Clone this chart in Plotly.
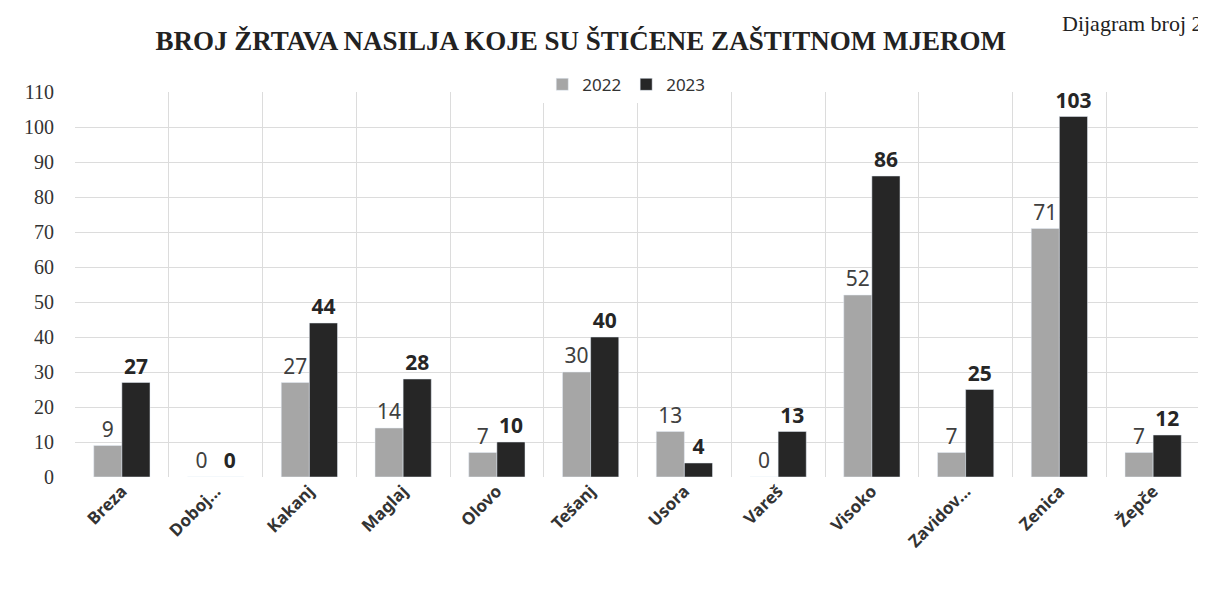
import plotly.graph_objects as go

categories = ["Breza", "Doboj...", "Kakanj", "Maglaj", "Olovo", "Tešanj", "Usora",
              "Vareš", "Visoko", "Zavidov...", "Zenica", "Žepče"]
v2022 = [9, 0, 27, 14, 7, 30, 13, 0, 52, 7, 71, 7]
v2023 = [27, 0, 44, 28, 10, 40, 4, 13, 86, 25, 103, 12]
y_ticks = list(range(0, 111, 10))

fig = go.Figure()
fig.add_trace(go.Bar(
    x=categories, y=v2022, name="2022", marker_color="#a6a6a6",
    text=[str(v) for v in v2022], textposition="outside", cliponaxis=False,
    constraintext="none",
    textfont=dict(family="Noto Sans", size=21, color="#404040"),
))
fig.add_trace(go.Bar(
    x=categories, y=v2023, name="2023", marker_color="#262626",
    text=[f"<b>{v}</b>" for v in v2023], textposition="outside", cliponaxis=False,
    constraintext="none",
    textfont=dict(family="Noto Sans", size=21, color="#262626"),
))

fig.update_layout(
    width=1198, height=583,
    paper_bgcolor="white", plot_bgcolor="white",
    margin=dict(l=67, r=6, t=84, b=114),
    barmode="group", bargap=0.4, bargroupgap=0,
    title=dict(text="<b>BROJ ŽRTAVA NASILJA KOJE SU ŠTIĆENE ZAŠTITNOM MJEROM</b>",
               x=0.478, xanchor="center", y=0.945, yanchor="middle",
               font=dict(family="Liberation Serif", size=27, color="#222222")),
    legend=dict(orientation="h", x=0.49, xanchor="center", y=0.972, yanchor="bottom",
                font=dict(family="Noto Sans", size=17, color="#333333"),
                itemwidth=30, traceorder="normal"),
    xaxis=dict(type="category", tickson="boundaries", showgrid=True, gridcolor="#dcdcdc",
               ticks="", tickangle=-45,
               tickfont=dict(family="Noto Sans", size=17, color="#333333", weight="bold"),
               showline=False, zeroline=False),
    yaxis=dict(range=[0, 110], tickvals=y_ticks, showgrid=True, gridcolor="#dcdcdc",
               zeroline=False, ticks="", ticklabelstandoff=20,
               tickfont=dict(family="Liberation Serif", size=20, color="#333333")),
    font=dict(family="Noto Sans"),
)

fig.add_annotation(text="Dijagram broj 2", xref="paper", yref="paper", x=1.004, y=1.215,
                   xanchor="right", yanchor="top", showarrow=False,
                   font=dict(family="Liberation Serif", size=22, color="#222222"))

fig.write_html("out.html")
